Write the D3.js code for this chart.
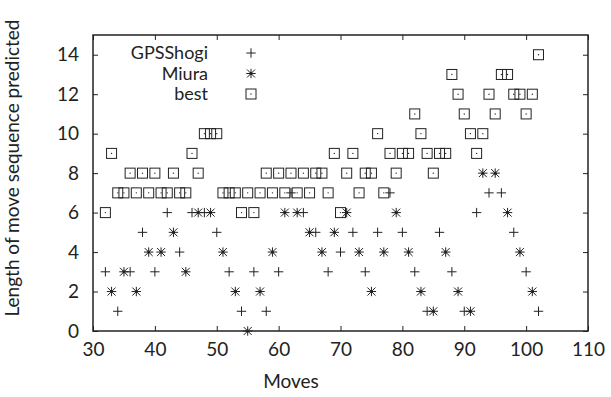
<!DOCTYPE html>
<html>
<head>
<meta charset="utf-8">
<script src="https://cdn.jsdelivr.net/npm/d3@7"></script>
<style>
  body { margin: 0; background: #fff; }
  svg text { font-family: Lato, "Open Sans", sans-serif; fill: #222; }
</style>
</head>
<body>
<svg id="svg" width="611" height="397"></svg>
<script>
// GPSShogi (+), even moves
var gpsMoves = [32,34,36,38,40,42,44,46,48,50,52,54,56,58,60,62,64,66,68,70,72,74,76,78,80,82,84,86,88,90,92,94,96,98,100,102]
var gpsLen   = [ 3, 1, 3, 5, 3, 6, 4, 6, 6, 5, 3, 1, 3, 1, 3, 7, 6, 5, 3, 4, 5, 3, 5, 7, 5, 3, 1, 5, 3, 1, 6, 7, 7, 5,  3,  1]

// Miura (*), odd moves
var miuraMoves = [33,35,37,39,41,43,45,47,49,51,53,55,57,59,61,63,65,67,69,71,73,75,77,79,81,83,85,87,89,91,93,95,97,99,101]
var miuraLen   = [ 2, 3, 2, 4, 4, 5, 3, 6, 6, 4, 2, 0, 2, 4, 6, 6, 5, 4, 5, 6, 4, 2, 4, 6, 4, 2, 1, 4, 2, 1, 8, 8, 6, 4,  2]

// best (boxes), every move
var bestMoves = [32,33,34,35,36,37,38,39,40,41,42,43,44,45,46,47,48,49,50,51,52,53,54,55,56,57,58,59,60,61,62,63,64,65,66,67,
                 68,69,70,71,72,73,74,75,76,77,78,79,80,81,82,83,84,85,86,87,88,89,90,91,92,93,94,95,96,97,98,99,100,101,102]
var bestLen   = [ 6, 9, 7, 7, 8, 7, 8, 7, 8, 7, 7, 8, 7, 7, 9, 8,10,10,10, 7, 7, 7, 6, 7, 6, 7, 8, 7, 8, 7, 8, 7, 8, 7, 8, 8,
                  7, 9, 6, 8, 9, 7, 8, 8,10, 7, 9, 8, 9, 9,11,10, 9, 8, 9, 9,13,12,11,10, 9,10,12,11,13,13,12,12, 11, 12, 14]

var xTicks = [30,40,50,60,70,80,90,100,110]
var yTicks = [0,2,4,6,8,10,12,14]
var legendNames = ["GPSShogi", "Miura", "best"]

var margin = {left: 93, right: 23, top: 35, bottom: 66}
var width = 611, height = 397
var ink = "#222"

const svg = d3.select("#svg")

var x = d3.scaleLinear().domain([30, 110]).range([margin.left, width - margin.right])
var y = d3.scaleLinear().domain([0, 15]).range([height - margin.bottom, margin.top])

// symbol paths
var plusPath = "M-4.7,0H4.7M0,-4.7V4.7"
var starPath = "M-4.7,0H4.7M0,-4.7V4.7M-4,-4L4,4M-4,4L4,-4"

function drawPlus(g, px, py) {
  g.append("path").attr("d", plusPath).attr("transform", `translate(${px},${py})`)
    .attr("stroke", ink).attr("stroke-width", 1).attr("fill", "none")
}
function drawStar(g, px, py) {
  g.append("path").attr("d", starPath).attr("transform", `translate(${px},${py})`)
    .attr("stroke", ink).attr("stroke-width", 1).attr("fill", "none")
  g.append("circle").attr("cx", px).attr("cy", py).attr("r", 1.5).attr("fill", ink)
}
function drawBox(g, px, py) {
  g.append("rect").attr("x", px - 5).attr("y", py - 5).attr("width", 10).attr("height", 10)
    .attr("stroke", ink).attr("stroke-width", 1).attr("fill", "none")
  g.append("circle").attr("cx", px).attr("cy", py).attr("r", 0.7).attr("fill", ink)
}

// axes (ticks inward, mirrored)
var axB = svg.append("g").attr("transform", `translate(0,${y(0)})`)
  .call(d3.axisBottom(x).tickValues(xTicks).tickSizeInner(-5).tickSizeOuter(0).tickPadding(12))
var axT = svg.append("g").attr("transform", `translate(0,${y(15)})`)
  .call(d3.axisTop(x).tickValues(xTicks).tickSizeInner(-5).tickSizeOuter(0).tickFormat(""))
var axL = svg.append("g").attr("transform", `translate(${x(30)},0)`)
  .call(d3.axisLeft(y).tickValues(yTicks).tickSizeInner(-5).tickSizeOuter(0).tickPadding(14))
var axR = svg.append("g").attr("transform", `translate(${x(110)},0)`)
  .call(d3.axisRight(y).tickValues(yTicks).tickSizeInner(-5).tickSizeOuter(0).tickFormat(""))

svg.selectAll(".domain").remove()
svg.selectAll(".tick line").attr("stroke", ink).attr("stroke-width", 1)
svg.selectAll(".tick text").style("font-size", "19px").attr("fill", ink)
axB.selectAll(".tick text").attr("dy", "0.71em")

// frame
svg.append("rect").attr("x", x(30)).attr("y", y(15))
  .attr("width", x(110) - x(30)).attr("height", y(0) - y(15))
  .attr("fill", "none").attr("stroke", ink).attr("stroke-width", 1.5)

// points
var pts = svg.append("g")
bestMoves.forEach((m, i) => drawBox(pts, x(m), y(bestLen[i])))
gpsMoves.forEach((m, i) => drawPlus(pts, x(m), y(gpsLen[i])))
miuraMoves.forEach((m, i) => drawStar(pts, x(m), y(miuraLen[i])))

// legend
var leg = svg.append("g")
var legY = [53, 73.5, 94]
legendNames.forEach((name, i) => {
  leg.append("text").attr("x", 208).attr("y", legY[i]).attr("dy", "0.35em")
    .attr("text-anchor", "end").style("font-size", "18px").text(name)
})
drawPlus(leg, 251, legY[0])
drawStar(leg, 251, legY[1])
drawBox(leg, 251, legY[2])

// labels
svg.append("text").attr("x", 291).attr("y", 388).attr("text-anchor", "middle")
  .style("font-size", "19px").text("Moves")
svg.append("text").attr("transform", "translate(19,168) rotate(-90)").attr("text-anchor", "middle")
  .style("font-size", "19px").text("Length of move sequence predicted")
</script>
</body>
</html>
